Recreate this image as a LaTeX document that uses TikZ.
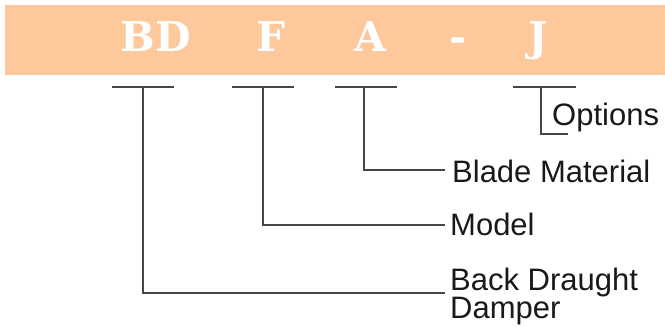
\documentclass[tikz,border=0pt]{standalone}
\usepackage{fontspec}
\setmainfont{Liberation Sans}
\newfontfamily\codefont{DejaVu Serif}
\usepackage{xcolor}
\definecolor{bannerorange}{RGB}{252,200,156}
\definecolor{linegray}{RGB}{70,70,70}

\begin{document}
\begin{tikzpicture}[x=1pt, y=-1pt,
    bar/.style={linegray, line width=1.3pt},
    code/.style={text=white, font=\codefont\bfseries\fontsize{41}{41}\selectfont, anchor=base, inner sep=0pt},
    label/.style={text=black!90, font=\fontsize{31}{28}\selectfont, inner sep=0pt, anchor=base west, align=left}]

    \useasboundingbox (0,0) rectangle (665,327);

    % Banner
    \fill[bannerorange] (5,5) rectangle (665,75);

    % Letters of the code
    \node[code] (BD) at (156,51) {BD};
    \node[code] (F)  at (271,51) {F};
    \node[code] (A)  at (370,51) {A};
    \node[code] (dash) at (458,51) {-};
    \node[code] (J)  at (538,51) {J};

    % Bars under the letters
    \coordinate (BDl) at (112,87);  % left end
    \coordinate (BDr) at (174,87);  % right end
    \coordinate (BDc) at (143,87);  % drop
    \coordinate (BDe) at (445,293); % end
    \coordinate (Fl) at (232,87);
    \coordinate (Fr) at (294,87);
    \coordinate (Fc) at (263,87);
    \coordinate (Fe) at (445,225);
    \coordinate (Al) at (335,87);
    \coordinate (Ar) at (397,87);
    \coordinate (Ac) at (364,87);
    \coordinate (Ae) at (445,170);
    \coordinate (Jl) at (513,87);
    \coordinate (Jr) at (576,87);
    \coordinate (Jc) at (541,87);
    \coordinate (Je) at (568,134);

    % Labels
    \node[label] (options) at (552,125) {Options};
    \node[label] (blade)   at (452,182) {Blade Material};
    \node[label] (model)   at (450,235) {Model};
    \node[label] (damper)  at (450,318) {Back Draught\\Damper}; % base = last line

    % Draw the lines
    \draw[bar] (BDl) -- (BDr);
    \draw[bar] (BDc) |- (BDe);
    \draw[bar] (Fl) -- (Fr);
    \draw[bar] (Fc) |- (Fe);
    \draw[bar] (Al) -- (Ar);
    \draw[bar] (Ac) |- (Ae);
    \draw[bar] (Jl) -- (Jr);
    \draw[bar] (Jc) |- (Je);

\end{tikzpicture}
\end{document}
